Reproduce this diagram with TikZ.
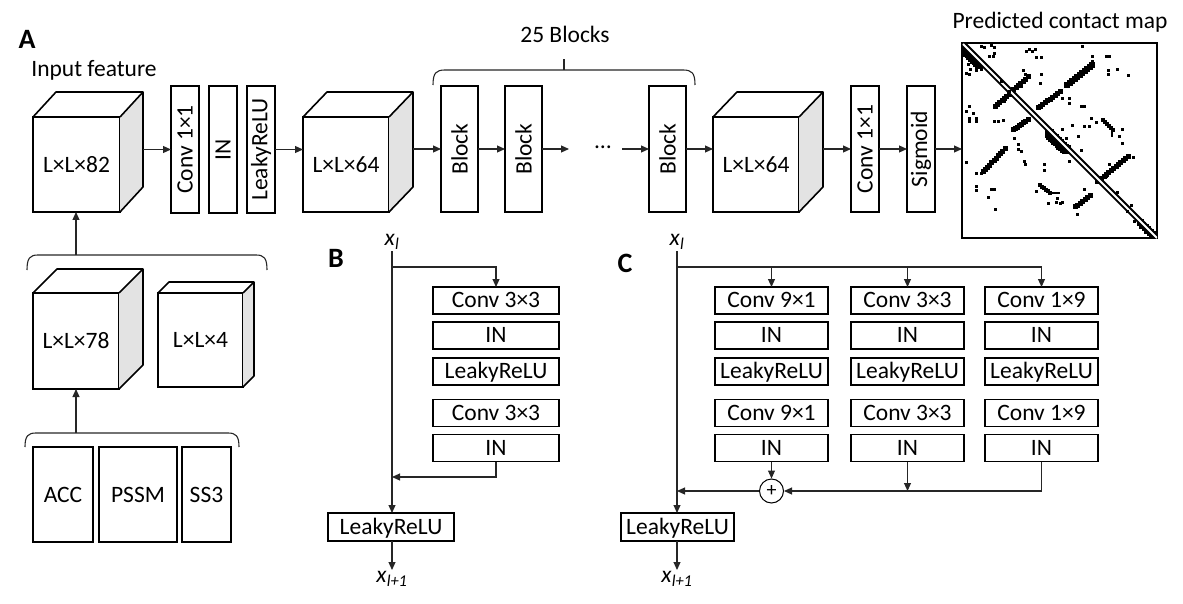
\documentclass[tikz,border=0pt]{standalone}
\usepackage{fontspec}
\setmainfont{Carlito}
\usepackage{graphicx}
\usetikzlibrary{arrows.meta,calc}
\newcommand\fs{\fontsize{23.5}{27}\selectfont}
\newcommand\cubefaces[3]{%
  \fill[gray!22] (#1.north east) -- ++(#2,-#3) -- ($(#1.south east)+(#2,-#3)$) -- (#1.south east) -- cycle;
  \draw[cube] (#1.north west) -- ++(#2,-#3) -- ($(#1.north east)+(#2,-#3)$) -- (#1.north east);
  \draw[cube] ($(#1.north east)+(#2,-#3)$) -- ($(#1.south east)+(#2,-#3)$) -- (#1.south east);
}
% pixelated stripe: x1 y1 x2 y2 count size
\newcommand\cmstripe[6]{%
  \foreach \i in {0,...,#5}{
    \fill ($(#1,#2)!{\i/#5}!(#3,#4)$) ++(-#6/2,-#6/2) rectangle ++(#6,#6);
  }%
}
\begin{document}
\begin{tikzpicture}[x=1pt,y=-1pt,
  bx/.style={draw, line width=1.6pt, inner sep=0pt, outer sep=0pt, font=\fs, fill=white},
  hb/.style={bx, minimum height=27, text height=16pt, text depth=1.2pt},
  vb/.style={bx, minimum width=28, minimum height=127},
  cube/.style={line width=1.6pt, line join=round},
  ln/.style={line width=1.1pt, draw=black!85},
  arr/.style={ln, -{Triangle[length=8pt,width=7pt]}},
  lbl/.style={font=\fontsize{28}{32}\selectfont\bfseries},
  ttl/.style={font=\fs},
  brc/.style={line width=1.1pt, draw=black!85},
  xl/.style={font=\fs, inner sep=1.5pt},
]
\useasboundingbox (0,0) rectangle (1183,604);

% ---------------- Panel A ----------------
\node[lbl] (A) at (27,39) {A};
\node[ttl] (inf) at (94,70) {Input feature};

\node[bx, minimum width=87, minimum height=95] (c1) at (76.5,164.5) {L×L×82};
\cubefaces{c1}{23}{25}
\coordinate (c1r) at ($(c1.east)+(23,0)$);

\node[vb] (cv1) at (185,149.5) {\rotatebox{90}{Conv 1×1}};
\node[vb] (in1) at (223,149.5) {\rotatebox{90}{IN}};
\node[vb] (lr1) at (261,149.5) {\rotatebox{90}{LeakyReLU}};
\draw[arr] (cv1.west -| c1r) -- (cv1.west);

\node[bx, minimum width=86, minimum height=95] (c2) at (346,164.5) {L×L×64};
\cubefaces{c2}{24}{25}
\coordinate (c2r) at ($(c2.east)+(24,0)$);
\draw[arr] (lr1.east) -- (lr1.east -| c2.west);

\node[vb, minimum width=37, minimum height=126] (bk1) at (459.5,149) {\rotatebox{90}{Block}};
\node[vb, minimum width=37, minimum height=126] (bk2) at (523.5,149) {\rotatebox{90}{Block}};
\node[vb, minimum width=37, minimum height=126] (bk3) at (667.5,149) {\rotatebox{90}{Block}};
\node[font=\fs] (dots) at (603,147) {…};
\coordinate (d1) at (569,149);
\coordinate (d2) at (622,149);
\draw[arr] (bk1.west -| c2r) -- (bk1.west);
\draw[arr] (bk1.east) -- (bk2.west);
\draw[arr] (bk2.east) -- (d1);
\draw[arr] (d2) -- (bk3.west);

\draw[brc] (433,85) .. controls (433,73) and (436,70) .. (445,70) -- (683,70) .. controls (692,70) and (695,73) .. (695,85);
\coordinate (brt) at (564,70);
\node[ttl] (nb) at (565,34) {25 Blocks};
\draw[brc] (brt) -- ++(0,-11);

\node[bx, minimum width=86, minimum height=95] (c3) at (756,164.5) {L×L×64};
\cubefaces{c3}{24}{25}
\coordinate (c3r) at ($(c3.east)+(24,0)$);
\draw[arr] (bk3.east) -- (bk3.east -| c3.west);

\node[vb, minimum height=126] (cv2) at (865,149) {\rotatebox{90}{Conv 1×1}};
\node[vb, minimum height=126] (sg) at (921,149) {\rotatebox{90}{Sigmoid}};
\draw[arr] (cv2.west -| c3r) -- (cv2.west);
\draw[arr] (cv2.east) -- (sg.west);

\node[ttl] (pcm) at (1060,22) {Predicted contact map};
\node[draw, line width=1.6pt, fill=white, minimum size=195, inner sep=0pt, outer sep=0pt] (cmap) at (1059.5,140.5) {};
\draw[arr] (sg.east) -- (sg.east -| cmap.west);
\begin{scope}
  \clip (cmap.south west) rectangle (cmap.north east);
  % thick blobs along diagonal
  \cmstripe{965}{51}{979}{65}{8}{8}
  \cmstripe{1049}{134}{1066}{150}{10}{9}
  \cmstripe{1140}{223}{1155}{237}{6}{7}
  % off-diagonal stripes
  \cmstripe{995}{107}{1028}{77}{14}{5}
  \cmstripe{1038}{108}{1060}{92}{9}{5}
  \cmstripe{1067}{85}{1092}{65}{10}{6}
  \cmstripe{983}{172}{1005}{149}{10}{5}
  \cmstripe{1013}{130}{1028}{120}{7}{5}
  \cmstripe{1075}{207}{1090}{196}{6}{5}
  \cmstripe{1097}{182}{1128}{157}{13}{5}
  \cmstripe{1040}{185}{1050}{193}{5}{4}
  \draw[line width=2.5pt] (1050,193) -- (1060,193);
  \cmstripe{1103}{120}{1113}{130}{5}{3.5}
  \draw[line width=2.5pt] (1112,131) -- (1112,137);
  % diagonal
  \draw[line width=6pt] (963,44) -- (1157,238);
  \draw[white, line width=1.8pt] (963,44) -- (1157,238);
  % scattered points
  \foreach \x/\y in {980/45,983/46,990/44,993/46,1028/48,1031/50,1034/48,1025/50,1035/56,1040/56,
    967/63,969/68,975/69,965/72,968/73,980/68,988/55,992/55,993/52,1024/73,1040/73,1039/82,
    968/105,965/110,972/112,968/117,975/117,975/120,968/120,993/120,997/120,1002/119,1013/137,
    1081/45,1091/55,1091/60,1105/55,1108/55,1107/69,1107/73,1116/68,1127/74,
    1061/97,1068/97,1068/102,1080/105,1083/105,1083/125,1088/125,1061/128,1065/137,
    1118/135,1121/128,1017/143,1017/148,1020/150,1023/160,1024/163,1043/163,1043/169,
    965/161,975/185,975/189,990/188,993/188,987/196,994/208,1047/202,1055/201,975/172,980/172,
    1080/149,1068/160,1108/163,1121/142,1132/156,1083/188,1061/201,1076/213,
    1116/191,1126/210,1133/220,1000/80,1008/90,1090/117,1095/121,1003/100,1020/85,
    1035/190,1056/197,1059/202,1022/69,1071/124,1077/135,1105/175,1130/204}
    \fill (\x,\y) rectangle ++(2.6,2.6);
\end{scope}

% lower part of A
\draw[brc] (27,270) .. controls (27,258) and (30,255) .. (38,255) -- (256,255) .. controls (264,255) and (267,258) .. (267,270);
\coordinate (bra1) at (76,255);
\draw[arr] (bra1) -- (bra1 |- c1.south);

\node[bx, minimum width=86, minimum height=96] (c78) at (76,341) {L×L×78};
\cubefaces{c78}{24}{24}
\node[bx, minimum width=85, minimum height=94] (c4) at (200.5,340) {L×L×4};
\cubefaces{c4}{11}{11}

\draw[brc] (25,447) .. controls (25,436) and (28,433) .. (36,433) -- (228,433) .. controls (236,433) and (239,436) .. (239,447);
\coordinate (bra2) at (76,433);
\draw[arr] (bra2) -- (bra2 |- c78.south);

\node[bx, minimum width=60, minimum height=95] (acc) at (63,494.5) {ACC};
\node[bx, minimum width=78, minimum height=95] (pssm) at (138,494.5) {PSSM};
\node[bx, minimum width=49, minimum height=95] (ss3) at (206.5,494.5) {SS3};

% ---------------- Panel B ----------------
\node[lbl] (B) at (336,258) {B};
\node[xl, anchor=south] (xlB) at (392,251) {\textit{x}\textsubscript{\textit{l}}};
\foreach \n/\y/\t in {1/300.5/Conv 3×3, 2/335.5/IN, 3/371.5/LeakyReLU, 4/413/Conv 3×3, 5/448/IN}
  \node[hb, minimum width=126] (bb\n) at (496,\y) {\t};
\node[hb, minimum width=126, minimum height=28] (lrB) at (391,527) {LeakyReLU};
\coordinate (brB) at (392,267);
\coordinate (rtB) at (392,477);
\draw[arr] (xlB.south) -- (xlB.south |- lrB.north);
\draw[arr] (brB) -| (bb1.north);
\draw[arr] (bb5.south) |- (rtB);
\node[xl, anchor=north] (xl1B) at (392,570) {\textit{x}\textsubscript{\textit{l+1}}};
\draw[arr] (lrB.south -| xlB.south) -- (xl1B.north);

% ---------------- Panel C ----------------
\node[lbl] (C) at (625,263) {C};
\node[xl, anchor=south] (xlC) at (677,251) {\textit{x}\textsubscript{\textit{l}}};
\foreach \c/\x/\k in {1/771.5/9×1, 2/907.5/3×3, 3/1041.5/1×9}{
  \node[hb, minimum width=113] (k\c r1) at (\x,300.5) {Conv \k};
  \node[hb, minimum width=113] (k\c r2) at (\x,335.5) {IN};
  \node[hb, minimum width=113] (k\c r3) at (\x,371.5) {LeakyReLU};
  \node[hb, minimum width=113] (k\c r4) at (\x,413) {Conv \k};
  \node[hb, minimum width=113] (k\c r5) at (\x,448) {IN};
}
\coordinate (brC) at (677,267);
\draw[ln] (brC) -- (brC -| k3r1.north);
\draw[arr] (brC -| k1r1.north) -- (k1r1.north);
\draw[arr] (brC -| k2r1.north) -- (k2r1.north);
\draw[arr] (brC -| k3r1.north) -- (k3r1.north);
\node[draw, circle, line width=1pt, minimum size=24, inner sep=0pt, font=\fontsize{20}{22}\selectfont] (plus) at (771.5,491) {+};
\draw[arr] (k1r5.south) -- (plus.north);
\draw[arr] (k3r5.south) |- (plus.east);
\draw[arr] (k2r5.south) -- (k2r5.south |- plus.east);
\draw[arr] (plus.west) -- (plus.west -| xlC.south);
\node[hb, minimum width=113, minimum height=28] (lrC) at (677.5,527) {LeakyReLU};
\draw[arr] (xlC.south) -- (xlC.south |- lrC.north);
\node[xl, anchor=north] (xl1C) at (677,570) {\textit{x}\textsubscript{\textit{l+1}}};
\draw[arr] (lrC.south -| xlC.south) -- (xl1C.north);
\end{tikzpicture}
\end{document}
